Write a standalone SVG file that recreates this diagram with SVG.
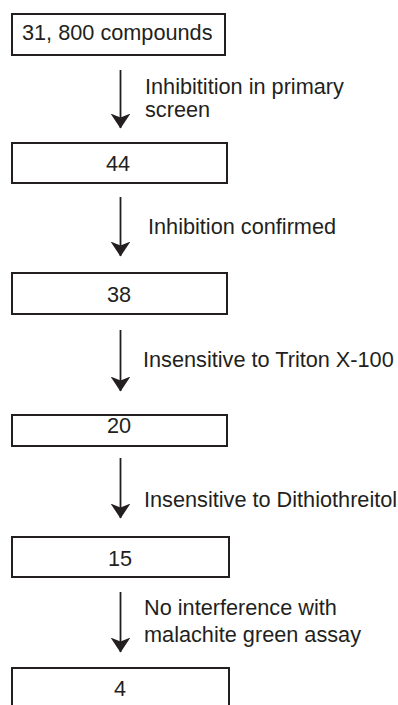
<svg xmlns="http://www.w3.org/2000/svg" width="398" height="705" viewBox="0 0 398 705">
<defs>
<style>
.box{fill:#fff;stroke:#231f20;stroke-width:2}
.t{font-family:"Liberation Sans",Arial,sans-serif;font-size:21.7px;fill:#231f20}
.c{text-anchor:middle}
.ln{stroke:#231f20;stroke-width:1.8;fill:none}
</style>
<marker id="ah" markerUnits="userSpaceOnUse" markerWidth="20" markerHeight="15" refX="10" refY="14.5" orient="0" viewBox="0 0 20 15">
<path d="M0,0 L10,4 L20,0 L10,15 Z" fill="#231f20"/>
</marker>
</defs>
<rect width="398" height="705" fill="#fff"/>
<g id="n1"><rect class="box" x="12" y="14" width="213" height="41"/><text class="t" x="22" y="40">31, 800 compounds</text></g>
<g id="n2"><rect class="box" x="12" y="143" width="215" height="40"/><text class="t c" x="118" y="171">44</text></g>
<g id="n3"><rect class="box" x="12" y="273" width="215" height="41"/><text class="t c" x="119" y="302">38</text></g>
<g id="n4"><rect class="box" x="12" y="415" width="215" height="31"/><text class="t c" x="119" y="433">20</text></g>
<g id="n5"><rect class="box" x="12" y="537" width="217" height="40"/><text class="t c" x="120" y="566">15</text></g>
<g id="n6"><rect class="box" x="12" y="668" width="217" height="50"/><text class="t c" x="120" y="696">4</text></g>
<g id="connectors">
<path class="ln" d="M120.5,70 V128" marker-end="url(#ah)"/>
<path class="ln" d="M120.5,197 V256" marker-end="url(#ah)"/>
<path class="ln" d="M120.5,330 V391" marker-end="url(#ah)"/>
<path class="ln" d="M120.5,458 V518" marker-end="url(#ah)"/>
<path class="ln" d="M120.5,592 V652" marker-end="url(#ah)"/>
<text class="t" x="145" y="94">Inhibitition in primary</text>
<text class="t" x="145" y="117">screen</text>
<text class="t" x="148" y="234">Inhibition confirmed</text>
<text class="t" x="143" y="367">Insensitive to Triton X-100</text>
<text class="t" x="144" y="507">Insensitive to Dithiothreitol</text>
<text class="t" x="144" y="615">No interference with</text>
<text class="t" x="144" y="642">malachite green assay</text>
</g>
</svg>
